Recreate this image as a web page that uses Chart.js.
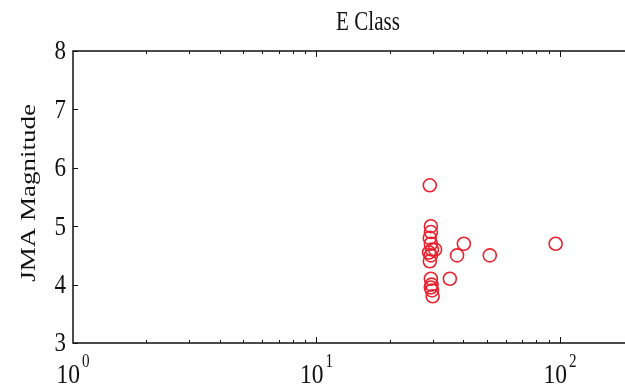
<!DOCTYPE html>
<html>
<head>
<meta charset="utf-8">
<script src="https://cdn.jsdelivr.net/npm/chart.js@4/dist/chart.umd.min.js"></script>
<style>
  html, body { margin: 0; padding: 0; background: #ffffff; }
  #wrap { width: 625px; height: 386px; }
</style>
</head>
<body>
<div id="wrap"><canvas id="c" width="625" height="386"></canvas></div>
<script>
// Event distance (log axis) and JMA magnitude for the E class events
const distances = [29.2, 29.5, 29.5, 29.2, 29.5, 29.8, 30.7, 29, 29.5, 29.2, 29.5, 29.7, 29.5, 29.8, 30, 35.3, 37.8, 40.3, 51.5, 96];
const magnitudes = [5.7, 5.0, 4.9, 4.8, 4.7, 4.6, 4.6, 4.55, 4.5, 4.4, 4.1, 4.0, 3.95, 3.9, 3.8, 4.1, 4.5, 4.7, 4.5, 4.7];

const titleText = 'E Class';
const yTitle = 'JMA Magnitude';
const yTickValues = [3, 4, 5, 6, 7, 8];
const xDecadeExponents = [0, 1, 2];

const SERIF = '"Liberation Serif", "Times New Roman", "DejaVu Serif", serif';
const SX = 0.78;          // horizontally condensed lettering
const INK = '#111111';

function drawText(ctx, s, x, y, size, align, baseline, rotate, sx) {
  ctx.save();
  ctx.translate(x, y);
  ctx.scale(sx || SX, 1);
  if (rotate) ctx.rotate(rotate);
  ctx.font = size + 'px ' + SERIF;
  ctx.fillStyle = INK;
  ctx.textAlign = align;
  ctx.textBaseline = baseline;
  ctx.fillText(s, 0, 0);
  ctx.restore();
}

const framePlugin = {
  id: 'frame',
  afterDatasetsDraw(chart) {
    const ctx = chart.ctx;
    const a = chart.chartArea;
    const xs = chart.scales.x, ys = chart.scales.y;

    // axes box (left, bottom, top)
    ctx.save();
    ctx.strokeStyle = INK;
    ctx.lineWidth = 1.5;
    ctx.beginPath();
    ctx.moveTo(a.right, a.top);
    ctx.lineTo(a.left, a.top);
    ctx.lineTo(a.left, a.bottom);
    ctx.lineTo(a.right, a.bottom);
    ctx.stroke();

    // inward ticks on the log axis (bottom and top)
    ctx.lineWidth = 1;
    for (let e = 0; e <= 3; e++) {
      for (let m = 1; m <= 9; m++) {
        const v = m * Math.pow(10, e);
        if (v < xs.min || v > xs.max) continue;
        const px = Math.round(xs.getPixelForValue(v)) + 0.5;
        const len = m === 1 ? 6 : 3;
        if (px <= a.left + 1) continue;
        ctx.beginPath();
        ctx.moveTo(px, a.bottom);
        ctx.lineTo(px, a.bottom - len);
        ctx.moveTo(px, a.top);
        ctx.lineTo(px, a.top + len);
        ctx.stroke();
      }
    }
    // inward ticks on the magnitude axis
    yTickValues.forEach(v => {
      const py = Math.round(ys.getPixelForValue(v)) + 0.5;
      ctx.beginPath();
      ctx.moveTo(a.left, py);
      ctx.lineTo(a.left + 5, py);
      ctx.stroke();
    });
    ctx.restore();

    // magnitude tick labels
    yTickValues.forEach(v => {
      drawText(ctx, String(v), a.left - 7, ys.getPixelForValue(v) + 1, 28, 'right', 'middle', 0, 0.82);
    });

    // decade labels 10^n
    ctx.save();
    const sxl = 0.84;
    xDecadeExponents.forEach(e => {
      const px = xs.getPixelForValue(Math.pow(10, e));
      ctx.font = '28px ' + SERIF;
      const w1 = ctx.measureText('10').width * sxl;
      ctx.font = '18px ' + SERIF;
      const w2 = ctx.measureText(String(e)).width * sxl;
      const gap = 2;
      const start = px - (w1 + gap + w2) / 2;
      drawText(ctx, '10', start, 383, 28, 'left', 'alphabetic', 0, sxl);
      drawText(ctx, String(e), start + w1 + gap, 367, 18, 'left', 'alphabetic', 0, sxl);
    });
    ctx.restore();

    // title and axis title
    drawText(ctx, titleText, 368, 30, 27, 'center', 'alphabetic');
    drawText(ctx, yTitle, 35, 193, 27, 'center', 'alphabetic', -Math.PI / 2);
  }
};

const points = distances.map((d, i) => ({ x: d, y: magnitudes[i] }));

new Chart(document.getElementById('c'), {
  type: 'scatter',
  data: {
    datasets: [{
      data: points,
      showLine: false,
      pointStyle: 'circle',
      pointRadius: 6.5,
      pointHoverRadius: 6.5,
      pointBorderWidth: 1.6,
      borderColor: '#e8232f',
      pointBorderColor: '#e8232f',
      backgroundColor: 'rgba(0,0,0,0)',
      pointBackgroundColor: 'rgba(0,0,0,0)'
    }]
  },
  options: {
    responsive: false,
    animation: false,
    devicePixelRatio: 1,
    layout: { autoPadding: false, padding: { left: 73, top: 51, right: 0, bottom: 43 } },
    plugins: {
      legend: { display: false },
      title: { display: false },
      tooltip: { enabled: false }
    },
    scales: {
      x: {
        type: 'logarithmic',
        display: false,
        min: 1,
        max: 185
      },
      y: {
        type: 'linear',
        display: false,
        min: 3,
        max: 8
      }
    }
  },
  plugins: [framePlugin]
});
</script>
</body>
</html>
